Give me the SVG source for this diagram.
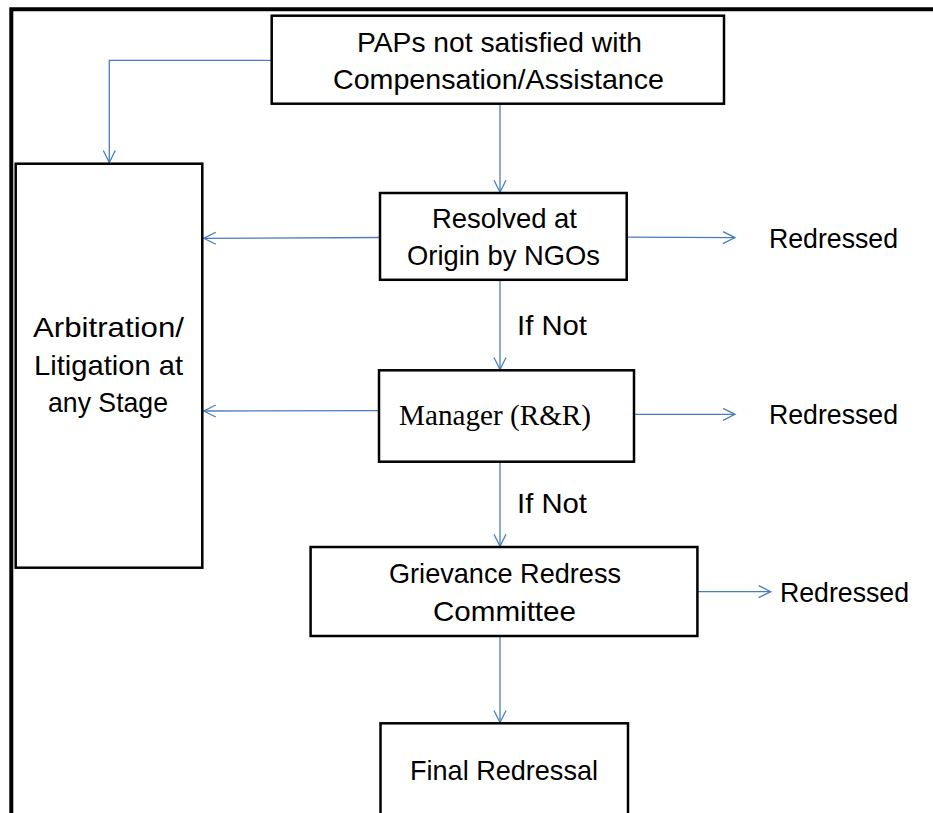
<svg xmlns="http://www.w3.org/2000/svg" width="933" height="813" viewBox="0 0 933 813">
<defs>
<style>
.box{fill:#fff;stroke:#000;stroke-width:2.5}
.t{font-family:"Liberation Sans",Arial,sans-serif;font-size:28px;fill:#000}
.s{font-family:"Liberation Serif","Times New Roman",serif;font-size:29px;fill:#000}
.c{fill:none;stroke:#4a7ebb;stroke-width:1.3}
</style>
<marker id="ah" viewBox="-14 -8 16 16" refX="0" refY="0" markerWidth="16" markerHeight="16" markerUnits="userSpaceOnUse" orient="auto" overflow="visible">
<path d="M-12,-6 L0,0 L-12,6" fill="none" stroke="#4a7ebb" stroke-width="1.3"/>
</marker>
</defs>
<rect width="933" height="813" fill="#fff"/>
<path d="M11.3,813 V9.2 H935" fill="none" stroke="#000" stroke-width="4"/>

<g id="connectors">
<path class="c" d="M271.7,60.3 H109.3 V162.5" marker-end="url(#ah)"/>
<path class="c" d="M500,104 V192.3" marker-end="url(#ah)"/>
<path class="c" d="M380,237.5 L203.8,238.3" marker-end="url(#ah)"/>
<path class="c" d="M626.7,237.2 L735,237.6" marker-end="url(#ah)"/>
<path class="c" d="M500,280 V369.5" marker-end="url(#ah)"/>
<path class="c" d="M379,410.7 L203.8,411" marker-end="url(#ah)"/>
<path class="c" d="M634,414.3 H735" marker-end="url(#ah)"/>
<path class="c" d="M500,462 V546.3" marker-end="url(#ah)"/>
<path class="c" d="M697.4,591.7 H770.7" marker-end="url(#ah)"/>
<path class="c" d="M500,636 V722.5" marker-end="url(#ah)"/>
</g>

<g id="paps">
<rect class="box" x="271.7" y="15.7" width="452.3" height="88"/>
<text class="t" x="357" y="52" textLength="285" lengthAdjust="spacingAndGlyphs">PAPs not satisfied with</text>
<text class="t" x="333" y="89" textLength="331" lengthAdjust="spacingAndGlyphs">Compensation/Assistance</text>
</g>

<g id="arbitration">
<rect class="box" x="15.7" y="163.7" width="186.6" height="404"/>
<text class="t" x="33" y="337" textLength="151" lengthAdjust="spacingAndGlyphs">Arbitration/</text>
<text class="t" x="34" y="375" textLength="149" lengthAdjust="spacingAndGlyphs">Litigation at</text>
<text class="t" x="48" y="412" textLength="120" lengthAdjust="spacingAndGlyphs">any Stage</text>
</g>

<g id="resolved">
<rect class="box" x="380" y="193" width="246.7" height="86.8"/>
<text class="t" x="432" y="228" textLength="145" lengthAdjust="spacingAndGlyphs">Resolved at</text>
<text class="t" x="407" y="265" textLength="193" lengthAdjust="spacingAndGlyphs">Origin by NGOs</text>
</g>

<g id="manager">
<rect class="box" x="379" y="370.3" width="255" height="91.4"/>
<text class="s" x="399" y="425" textLength="192" lengthAdjust="spacingAndGlyphs">Manager (R&amp;R)</text>
</g>

<g id="grievance">
<rect class="box" x="310.6" y="547" width="386.8" height="89"/>
<text class="t" x="389" y="583" textLength="232" lengthAdjust="spacingAndGlyphs">Grievance Redress</text>
<text class="t" x="433" y="621" textLength="143" lengthAdjust="spacingAndGlyphs">Committee</text>
</g>

<g id="final">
<rect class="box" x="380.5" y="723.3" width="247.5" height="100"/>
<text class="t" x="410" y="780" textLength="188" lengthAdjust="spacingAndGlyphs">Final Redressal</text>
</g>

<g id="labels">
<text class="t" x="769" y="248" textLength="129" lengthAdjust="spacingAndGlyphs">Redressed</text>
<text class="t" x="769" y="424" textLength="129" lengthAdjust="spacingAndGlyphs">Redressed</text>
<text class="t" x="780" y="602" textLength="129" lengthAdjust="spacingAndGlyphs">Redressed</text>
<text class="t" x="517" y="335" textLength="70" lengthAdjust="spacingAndGlyphs">If Not</text>
<text class="t" x="517" y="513" textLength="70" lengthAdjust="spacingAndGlyphs">If Not</text>
</g>
</svg>
